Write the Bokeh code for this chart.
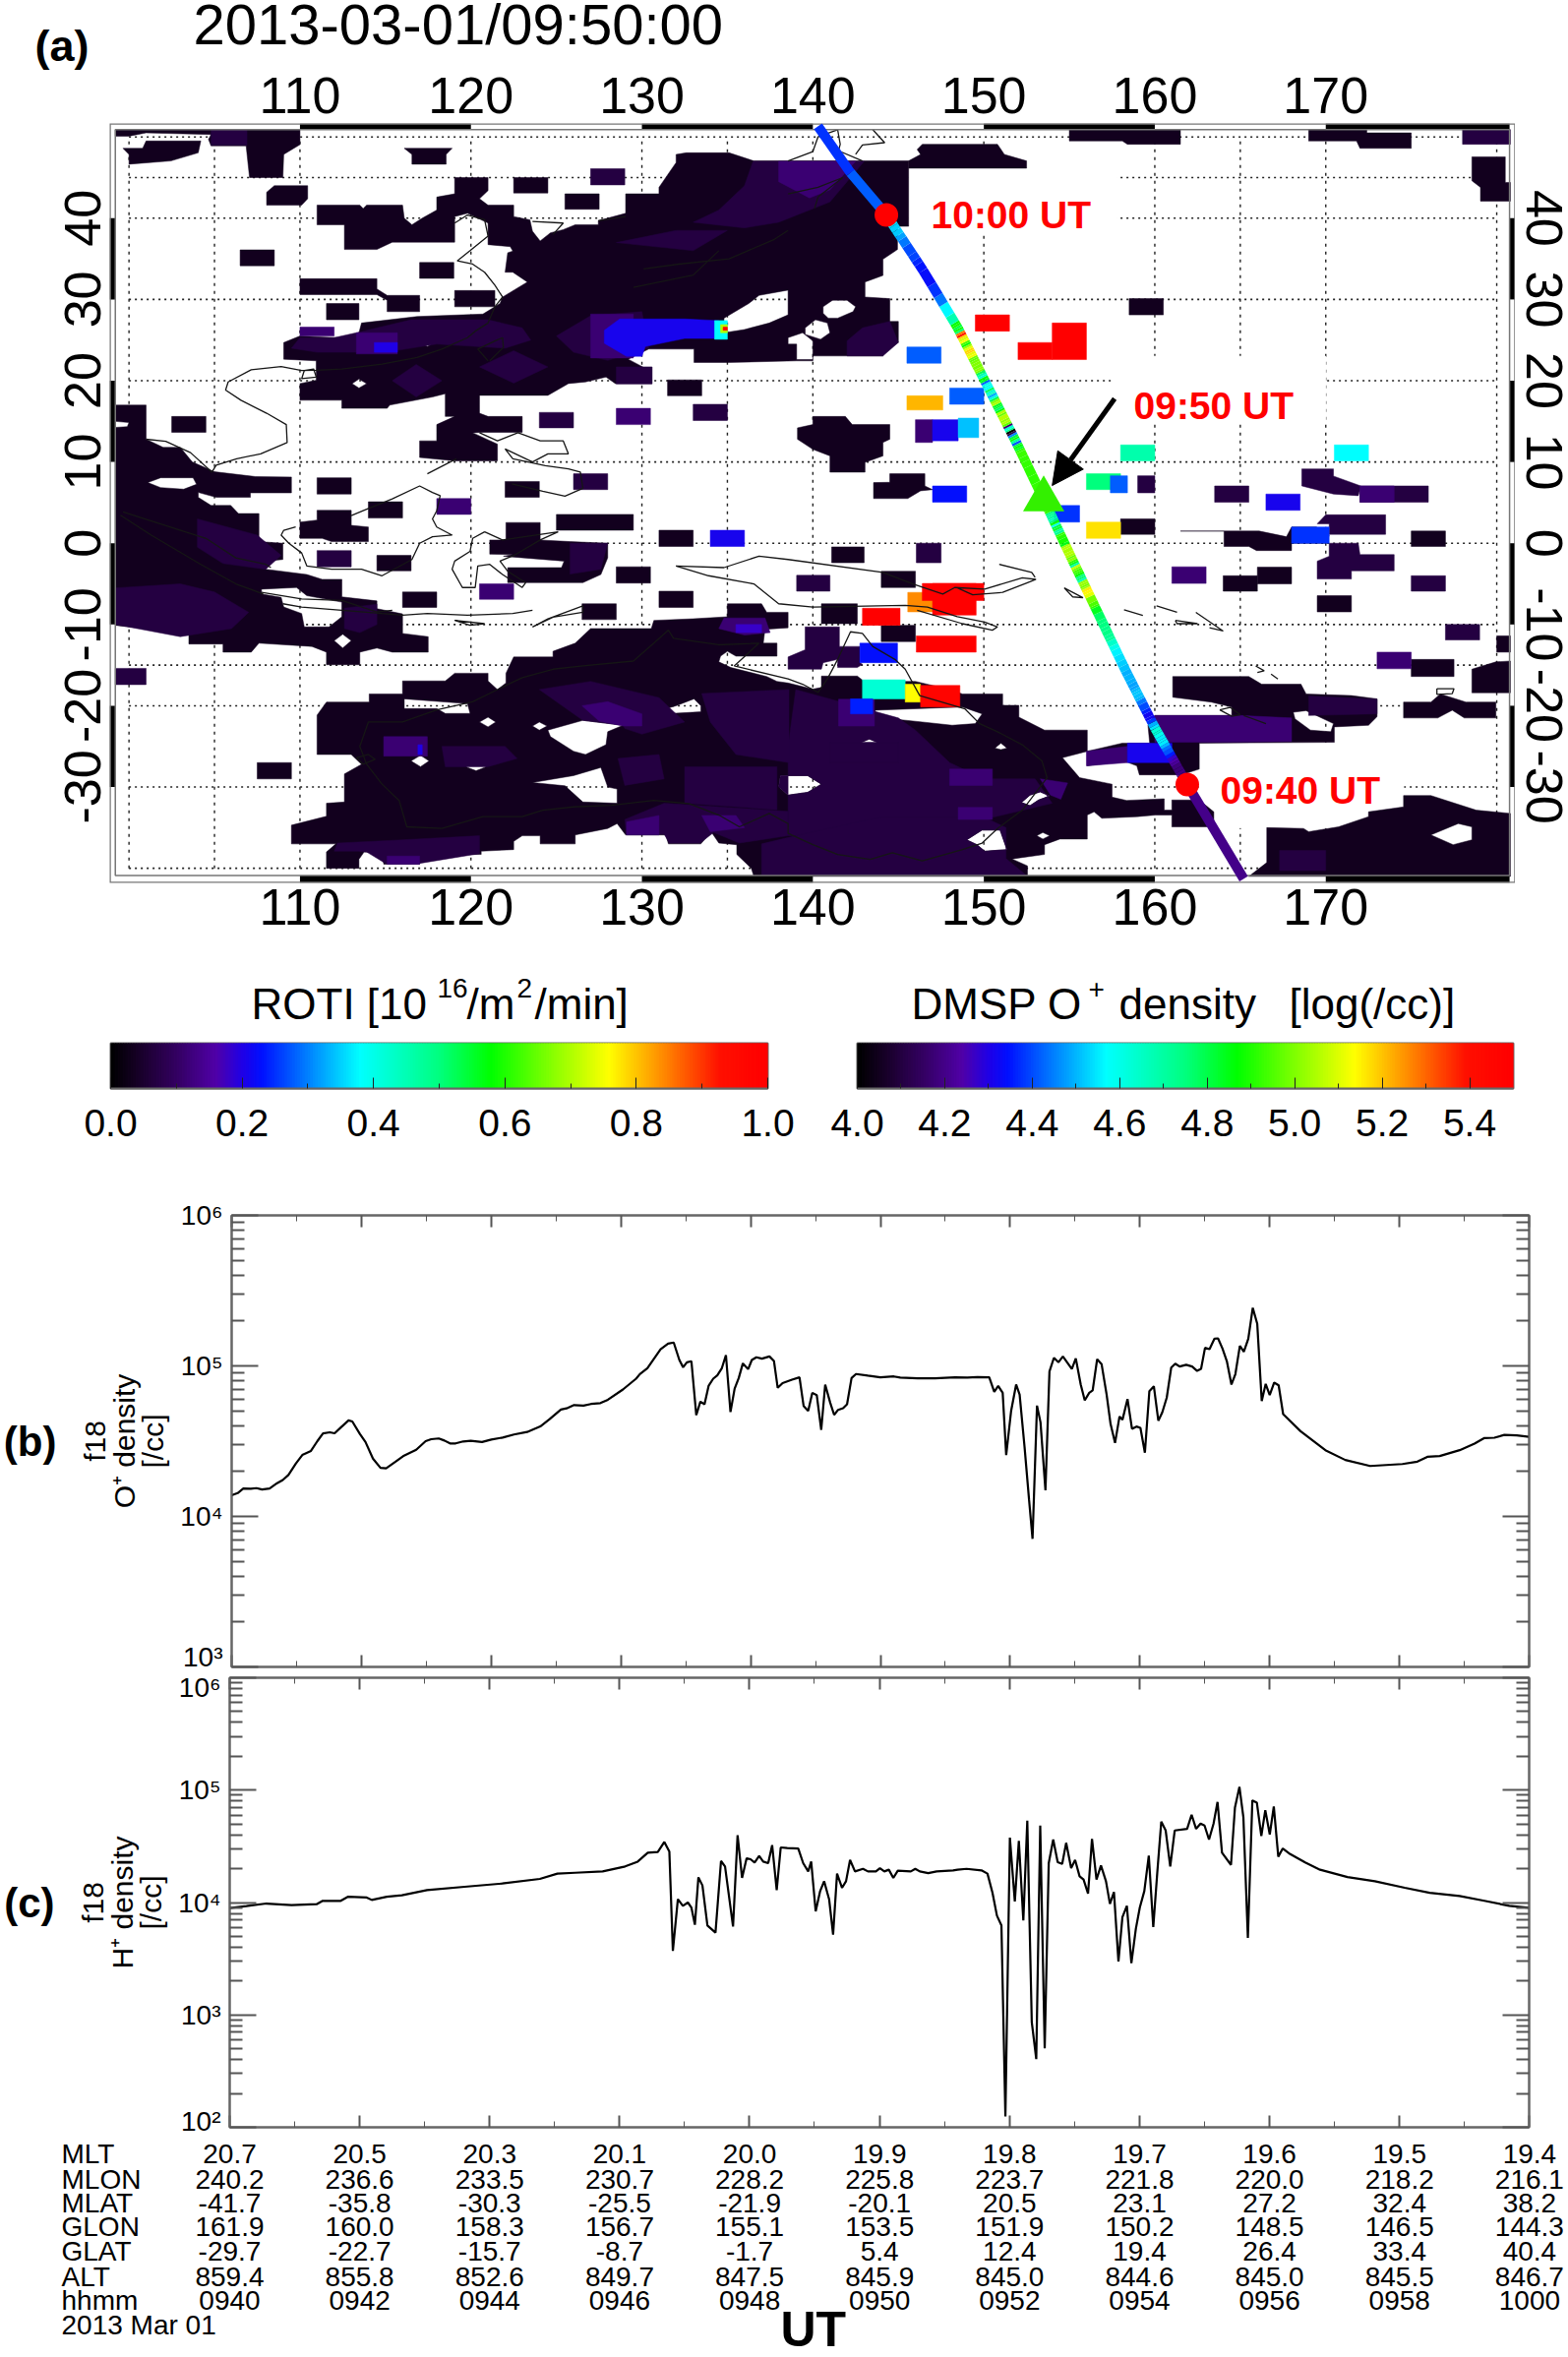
import numpy as np
from bokeh.embed import file_html
from bokeh.resources import INLINE
from bokeh.plotting import figure
from bokeh.layouts import row
from bokeh.core.properties import value
from bokeh.models import (ColumnDataSource, FixedTicker, Label, LinearAxis, LogAxis,
                          LinearColorMapper, Arrow, NormalHead)
from bokeh.transform import transform

FONT = "Liberation Sans"
# ---------------------------------------------------------------- table under the panels
hhmm = ["0940","0942","0944","0946","0948","0950","0952","0954","0956","0958","1000"]
mlt  = ["20.7","20.5","20.3","20.1","20.0","19.9","19.8","19.7","19.6","19.5","19.4"]
mlon = ["240.2","236.6","233.5","230.7","228.2","225.8","223.7","221.8","220.0","218.2","216.1"]
mlat = ["-41.7","-35.8","-30.3","-25.5","-21.9","-20.1","20.5","23.1","27.2","32.4","38.2"]
glon = ["161.9","160.0","158.3","156.7","155.1","153.5","151.9","150.2","148.5","146.5","144.3"]
glat = ["-29.7","-22.7","-15.7","-8.7","-1.7","5.4","12.4","19.4","26.4","33.4","40.4"]
alt  = ["859.4","855.8","852.6","849.7","847.5","845.9","845.0","844.6","845.0","845.5","846.7"]
row_names = ["MLT","MLON","MLAT","GLON","GLAT","ALT","hhmm"]
minutes = [0,2,4,6,8,10,12,14,16,18,20]

# ---------------------------------------------------------------- panel (b): minutes after 09:40, log10 O+ density
o_t = [0,.093,.18,.295,.382,.469,.585,.701,.788,.875,.991,1.089,1.222,1.321,1.408,1.512,1.587,1.686,1.802,1.86,1.976,2.063,2.178,2.294,2.381,2.526,2.642,2.845,2.99,3.076,3.192,3.279,3.366,3.453,3.569,3.685,3.859,4.003,4.177,4.351,4.554,4.757,4.901,5.075,5.162,5.278,5.423,5.539,5.684,5.799,6.031,6.234,6.292,6.408,6.611,6.727,6.814,6.901,6.959,7.017,7.087,7.162,7.225,7.289,7.353,7.423,7.486,7.556,7.619,7.689,7.753,7.816,7.88,7.961,8.018,8.088,8.175,8.29,8.359,8.417,8.492,8.637,8.753,8.816,8.887,8.95,9.019,9.088,9.149,9.226,9.287,9.348,9.425,9.486,9.555,9.624,9.808,9.999,10.207,10.306,10.575,10.843,11.149,11.341,11.494,11.678,11.755,11.816,11.885,11.939,12.015,12.092,12.146,12.222,12.291,12.345,12.414,12.468,12.544,12.606,12.675,12.744,12.813,12.951,13.012,13.088,13.15,13.219,13.272,13.341,13.41,13.487,13.548,13.617,13.686,13.732,13.809,13.878,13.947,14.008,14.077,14.146,14.215,14.284,14.345,14.414,14.483,14.545,14.613,14.713,14.805,14.882,14.943,15.004,15.073,15.15,15.204,15.273,15.342,15.411,15.472,15.541,15.602,15.671,15.74,15.809,15.878,15.939,16.001,16.07,16.139,16.208,16.476,16.859,17.166,17.549,18.047,18.277,18.431,18.622,18.929,19.158,19.311,19.465,19.618,19.81,20.0]
o_log = [4.14,4.155,4.186,4.184,4.188,4.179,4.186,4.221,4.242,4.275,4.352,4.408,4.435,4.5,4.552,4.559,4.552,4.592,4.638,4.631,4.548,4.494,4.384,4.323,4.319,4.363,4.4,4.443,4.5,4.513,4.518,4.504,4.485,4.485,4.498,4.502,4.494,4.511,4.524,4.544,4.561,4.598,4.646,4.71,4.718,4.74,4.736,4.747,4.753,4.775,4.843,4.915,4.945,4.985,5.111,5.148,5.155,5.039,4.991,5.024,5.031,4.673,4.762,4.745,4.869,4.915,4.937,4.985,5.072,4.694,4.849,4.919,5.017,4.978,5.039,5.057,5.048,5.063,5.033,4.854,4.886,4.908,4.924,4.734,4.701,4.821,4.806,4.575,4.876,4.756,4.675,4.708,4.719,4.745,4.919,4.946,4.935,4.924,4.93,4.922,4.917,4.917,4.924,4.922,4.926,4.924,4.828,4.867,4.821,4.407,4.701,4.876,4.81,4.462,4.113,3.851,4.736,4.625,4.174,4.963,5.054,5.024,5.063,4.98,5.05,4.876,4.771,4.821,4.837,5.044,5.011,4.81,4.614,4.488,4.664,4.643,4.78,4.582,4.597,4.588,4.423,4.832,4.865,4.636,4.691,4.789,4.989,5.015,4.996,5.007,4.996,4.967,4.98,5.12,5.111,5.181,5.183,5.115,5.028,4.876,4.946,5.133,5.094,5.181,5.386,5.279,4.767,4.88,4.806,4.889,4.871,4.68,4.566,4.44,4.375,4.335,4.348,4.364,4.396,4.401,4.44,4.484,4.521,4.523,4.542,4.538,4.529]
# ---------------------------------------------------------------- panel (c): minutes after 09:40, log10 H+ density
h_t = [0,.257,.566,.952,1.338,1.431,1.709,1.824,2.11,2.187,2.419,2.651,3.037,3.616,4.195,4.774,5.044,5.315,5.74,6.087,6.28,6.435,6.589,6.69,6.767,6.821,6.898,6.975,7.052,7.106,7.16,7.214,7.276,7.353,7.477,7.562,7.624,7.747,7.817,7.886,7.956,8.017,8.079,8.149,8.211,8.288,8.349,8.419,8.481,8.581,8.751,8.827,8.904,8.95,9.019,9.088,9.149,9.226,9.287,9.348,9.425,9.486,9.548,9.624,9.747,9.824,9.946,10.008,10.076,10.145,10.214,10.283,10.483,10.552,10.621,10.751,10.881,11.134,11.203,11.341,11.571,11.663,11.74,11.809,11.878,11.939,12.008,12.084,12.146,12.215,12.276,12.345,12.414,12.475,12.544,12.606,12.675,12.744,12.813,12.874,12.951,13.012,13.081,13.142,13.211,13.272,13.341,13.41,13.487,13.548,13.61,13.679,13.74,13.809,13.878,13.947,14.008,14.077,14.146,14.215,14.276,14.338,14.406,14.476,14.545,14.736,14.805,14.874,14.943,15.004,15.073,15.142,15.204,15.273,15.411,15.472,15.541,15.602,15.671,15.74,15.809,15.878,15.939,16.008,16.07,16.139,16.208,16.323,16.553,16.782,17.204,17.626,18.085,18.469,18.929,19.311,19.694,20.0]
h_log = [3.95,3.968,3.991,3.977,3.985,4.015,4.015,4.052,4.044,4.023,4.052,4.064,4.111,4.14,4.169,4.21,4.257,4.265,4.277,4.321,4.364,4.443,4.449,4.539,4.452,3.569,4.029,3.971,4.0,3.956,3.802,4.224,4.152,3.796,3.732,4.37,4.321,3.787,4.598,4.219,4.394,4.385,4.356,4.414,4.364,4.35,4.51,4.111,4.49,4.484,4.481,4.35,4.277,4.364,3.921,4.102,4.189,4.029,3.714,4.257,4.131,4.189,4.379,4.277,4.3,4.277,4.277,4.306,4.277,4.292,4.219,4.283,4.277,4.3,4.277,4.262,4.277,4.286,4.292,4.3,4.286,4.257,4.087,3.883,3.796,2.096,4.577,4.009,4.548,3.84,4.729,2.936,2.607,4.685,2.703,4.35,4.56,4.359,4.344,4.531,4.306,4.379,4.233,4.204,4.079,4.566,4.204,4.329,4.189,3.988,4.093,3.475,3.869,3.971,3.461,3.767,3.956,4.102,4.417,3.781,4.262,4.72,4.641,4.321,4.641,4.656,4.781,4.656,4.703,4.685,4.56,4.7,4.895,4.443,4.335,4.845,5.029,4.758,3.685,4.909,4.889,4.592,4.822,4.606,4.854,4.408,4.481,4.431,4.356,4.292,4.227,4.189,4.131,4.087,4.058,4.015,3.971,3.953]

# ---------------------------------------------------------------- map (a): satellite track ends beyond the table (lon, lat, log density)
track_south = [(165.2,-41.3,4.23),(161.9,-29.7,4.2)]
track_north = [(144.3,40.4,4.48),(142.2,45.6,4.42),(140.3,51.3,4.38)]

# ROTI patches: polygons in (lon, lat), each [outer, hole, hole...] with one value
dark_north = [
 [(111,41.6),(113.5,41.6),(113.7,41.2),(113.9,41.6),(116,41.6),(116.1,40),(116.55,39.2),(117.15,40),(118,41),(118,42.6),(119.05,43),(119.05,45),(121,45),(121,43.4),(120.5,42.4),(121,41.6),(122.5,41.6),(122.5,40.2),(123.45,39.8),(123.6,38.4),(124.05,37.2),(124.65,38.2),(125.4,38.6),(126.1,39.2),(127.45,39.2),(127.45,39.7),(129.05,40.6),(129.05,43),(131,43),(131,43.8),(132,46.85),(132,47.85),(132.6,48.05),(135.1,48.05),(136.55,47.05),(145.6,47.05),(145.6,39),(144.95,39),(144.95,36.15),(144.1,34.95),(144.1,32.95),(143.05,32.15),(143.05,30.3),(144.5,30.1),(144.5,27.3),(145,27.3),(145,24.7),(144.1,24.1),(144.1,23.05),(140,23.05),(140,22.45),(139.05,22.45),(135.1,22.25),(133.05,22.25),(133.05,23.9),(130.4,23.9),(129.2,22.65),(130.1,21.65),(130.55,21.65),(130.55,19.65),(128.45,19.65),(127.9,20.45),(126.7,19.85),(125.7,19.65),(124.5,18.2),(120.5,18.2),(120.5,16),(121,15.6),(123,15.6),(123,13.65),(120.7,13.65),(120.1,13.6),(121.55,12.2),(121.55,10.15),(119.05,10.15),(117,10.55),(117,12.6),(118,12.6),(118,14.6),(119.05,15.6),(118.5,15.6),(118.5,18.4),(117.75,18),(115.25,17),(115.1,16.6),(112.45,16.6),(112.45,17.6),(110,17.6),(110,19.65),(110.95,20.05),(110.95,22.45),(109.05,22.65),(109.05,24.7),(110,25.5),(112,25.3),(113,25.3),(113.45,25.9),(113.6,27.1),(116.85,27.9),(120.7,28.2),(121.7,29.5),(121.85,30.3),(123.3,32.15),(122.45,33.35),(122,33.35),(122.15,35.75),(122.45,35.95),(122.3,36.5),(121,36.75),(121,39.4),(119.8,40.6),(119.05,40.2),(119.05,37.05),(115.4,37.05),(114.5,36.15),(112.6,36.15),(112.6,39.2),(111,39.2)],
 [(134.8,26.5),(134.8,27.7),(136.25,29.5),(136.85,30.5),(138.55,31.15),(138.55,28.1),(137.45,27.1),(136,26.3),(134.8,25.9)],
 [(140.6,29.1),(141.15,29.9),(142,29.9),(142.5,29.1),(142.35,28.5),(141.45,27.7),(140.9,27.7),(140.6,28.3)],
 [(139.55,26.5),(140.15,27.5),(140.85,27.1),(141,25.9),(140.45,25.1),(139.55,25.7)],
 [(138.55,25.3),(139.4,25.9),(140,24.9),(140,22.6),(139.05,22.6),(139.05,24.5),(138.55,24.5)],
 [(113.05,19.65),(113.45,20.2),(113.9,19.65),(113.45,19.1)],
 [(117.05,24.7),(117.45,25.2),(117.85,24.7),(117.45,24.2)],
]
dark_west = [
 [(99.2,17),(101,17),(101,12.8),(102,11.8),(103,11.8),(103.7,10),(105,8.8),(107.4,8.2),(109.5,8.15),(109.5,6.2),(107.1,6.2),(107.1,5.65),(105.1,5.65),(104.05,6.25),(104.05,5.65),(104.8,4.65),(105.95,4.65),(106.4,3.65),(107.6,3.65),(107.6,0.2),(109,0),(109,-2),(108,-2.2),(108,-3.2),(110.4,-3.85),(111.3,-4.44),(112.45,-4.44),(112.45,-6.6),(114.5,-7.1),(114.5,-8.05),(116,-8.7),(116,-11.1),(117.5,-11.5),(117.5,-13.4),(115.4,-13.4),(114.5,-12.9),(113.5,-13.4),(113.5,-14.95),(111.55,-14.95),(111.55,-13.4),(110.7,-12.7),(107.6,-12.3),(107.15,-13.4),(105.5,-13.4),(105.5,-12.4),(103.5,-12.4),(103.5,-11.3),(103,-11),(99.2,-10.1)],
 [(99.2,15),(100,14.85),(99.9,14.35),(99.2,14.25)],
 [(101.1,7.46),(101.85,8.06),(103.75,8.06),(103.95,7.25),(103.2,6.65),(101.85,6.85)],
 [(107.75,-5.65),(109.8,-5.45),(110.4,-6.45),(112.45,-7.25),(112.45,-9.05),(111.7,-10.3),(110.25,-10.3),(110.1,-8.65),(109.05,-7.85),(108.9,-6.65),(107.75,-6.25)],
 [(112,-12),(112.5,-11.2),(113,-12),(112.5,-12.9)],
]
h_s_9 = [(138.1,-28.6),(139.7,-28.6),(140.5,-29.65),(139.7,-30.65),(138.55,-31),(138,-30)]
h_s_10 = [(142.6,-24.7),(143.3,-24.1),(144,-24.7),(143.3,-25.2)]
h_s_12 = [(152.7,-31),(153.3,-30.6),(153.85,-31.1),(153.2,-31.6),(152.7,-32.3),(152.2,-31.9)]
h_s_14 = [(149,-36.5),(149.9,-35.3),(150.95,-35.3),(151.35,-37.7),(150.05,-37.9),(149.6,-37.1)]
dark_south = [
 [(109.5,-34.7),(111.55,-33.6),(111.55,-32),(112.6,-31.85),(112.6,-28.4),(113.6,-27.2),(113,-26),(111,-26),(111,-21.15),(111.55,-19.55),(114.05,-19.55),(114.05,-18.55),(116,-18.55),(116,-16.95),(118.5,-16.95),(119.05,-16),(121,-16),(121,-16.95),(121.55,-18),(122.05,-17.2),(122.05,-16),(122.5,-14),(124.8,-14),(124.8,-13.3),(126.1,-12.3),(127,-10.5),(130.55,-10.5),(130.7,-9.5),(133,-9.3),(135,-9.05),(135,-7.45),(137,-7.45),(137.3,-8.5),(138.55,-8.5),(138.55,-10.4),(137.2,-10.6),(137.1,-12.3),(137.9,-12.3),(137.9,-13.9),(135.5,-13.9),(135,-13.3),(134.6,-13.9),(134.5,-14.6),(135.2,-15.3),(137.3,-16.4),(137.9,-17),(138.55,-17.2),(140,-17.95),(140.5,-17.75),(140.5,-16.35),(142.6,-16.35),(143,-17),(146,-17),(148,-18),(148.75,-18.55),(151.1,-18.55),(151.1,-19.95),(152.05,-19.95),(152.05,-21.4),(153.55,-23),(156.05,-23),(156.05,-25.6),(154.6,-26.4),(155.6,-28.85),(157.5,-29.65),(157.5,-31.25),(158.35,-31.65),(160.55,-31.45),(160.55,-32.85),(161,-32.85),(161,-31.6),(162.6,-31.6),(163.45,-33.05),(163.45,-34.9),(161,-34.9),(161,-33.45),(160.05,-33.45),(158.95,-33.65),(156.9,-33.85),(156.45,-33.05),(156.05,-33.45),(156.05,-36.4),(154.45,-36.4),(153.55,-37.1),(153.55,-38.3),(151.65,-38.85),(152.55,-39.7),(152.55,-41),(136.55,-41),(136.4,-40),(135.55,-38.3),(135.55,-37.1),(134.5,-36.9),(134.05,-35.5),(133.45,-37),(131.55,-37),(131.4,-35.9),(129.05,-35.9),(128.55,-34.5),(128,-35.1),(126.1,-35.9),(126.1,-37),(124.05,-37),(124.05,-36),(123,-36),(122.5,-36.7),(122.5,-37.7),(120.6,-37.9),(120.6,-38.3),(117.1,-38.3),(117,-39.5),(114.9,-39.5),(114.8,-38.1),(113.75,-38),(113.45,-38.9),(113.45,-40),(111.55,-40),(111.55,-38),(112.1,-37),(109.5,-37)],
 [(116.1,-19.15),(119.8,-19.75),(119.95,-20.95),(118.5,-20.95),(118,-20.35),(116.1,-20.35)],
 [(120.5,-22),(121,-21.4),(121.45,-22),(121,-22.6)],
 [(123.6,-22.5),(124,-22),(124.45,-22.5),(124,-23)],
 [(116.5,-26.8),(117.05,-26.1),(117.55,-26.8),(117.05,-27.5)],
 [(119.7,-27.5),(120.3,-27),(120.9,-27.5),(120.3,-28)],
 [(124.5,-23),(126.55,-21.8),(128.9,-22.4),(128,-23.2),(127.9,-24.8),(126.7,-26),(126,-25.6),(124.65,-23.8)],
 [(123.6,-29.45),(126,-28.6),(127.6,-27.6),(128,-30),(128.55,-30.25),(128.55,-32),(126.55,-31.85),(125.5,-29.85)],
 [(131.1,-20.55),(132,-20),(133.05,-19.15),(133.45,-20),(133.45,-20.75),(131.25,-21)],
 h_s_9, h_s_10,
 [(150.65,-25.2),(151,-24.6),(151.35,-25.2),(151,-25.4)],
 h_s_12,
 [(153.1,-36),(153.45,-35.6),(153.85,-36),(153.45,-36.4)],
 h_s_14,
 [(143.65,-20.55),(148.75,-20.15),(149.9,-21),(149.5,-22.2),(148.15,-22.4),(146.4,-22),(143.65,-21.4)],
]
dark_mid_east = [
 [(161.05,-16.4),(165.5,-16.4),(166.25,-17.35),(168.55,-17.35),(168.85,-18.55),(171.5,-18.75),(173,-19.15),(173,-21.35),(172.5,-22.4),(170.5,-22.6),(170.5,-24.5),(162.6,-24.6),(162.6,-27.8),(161.55,-28.5),(159.1,-28.5),(158.95,-27.4),(158.2,-26.8),(156.05,-27.4),(156.05,-25.6),(158.1,-24.6),(159.7,-24.6),(159.6,-22.4),(160,-21.2),(164.5,-21.2),(164.5,-20.15),(163.3,-19.55),(161.05,-18.95)],
 [(168.1,-20.8),(168.85,-20.6),(170.45,-22.2),(170.3,-23.2),(169.1,-23),(168.2,-21.6)],
]
dark_south_east = [
 [(166.55,-35),(168.7,-35.1),(169,-35.5),(170.75,-34.9),(172.5,-33.65),(172.5,-33.05),(174.55,-32.45),(174.55,-31.05),(176.15,-31.05),(178.8,-32.85),(180.8,-33.25),(180.8,-41),(165.5,-41),(166.55,-39.3)],
 [(176.15,-35.9),(177.75,-34.5),(178.55,-34.9),(178.55,-36.5),(177.45,-37.1)],
]
dark_others = [
 [(99.65,48.6),(100.8,48.6),(101,49.5),(104.2,49.5),(104.05,48.05),(102.45,47.05),(100,46.65),(100,47.85)],
 [(99.2,50.9),(110,50.9),(110,49.05),(109.05,47.85),(109,45),(107.05,45),(106.85,48.9),(104.8,48.9),(104.65,49.7),(104.8,50.3),(101,50.5),(100,50.1),(99.2,50.1)],
 [(108.5,44),(110.45,44),(110.45,42.4),(110.1,41.6),(108.05,41.6),(108.05,43.2)],
 [(116.1,48.6),(118.9,48.6),(118.55,47.85),(118.55,46.65),(116.55,46.65),(116.55,47.85)],
 [(110,32.55),(114.5,32.55),(114.5,31.3),(115.1,30.5),(117,30.5),(117,28.5),(115.1,28.5),(115.1,29.9),(114.5,30.6),(110,30.6)],
 [(111,4.05),(113,4.05),(113,2.2),(114,2),(114,0.2),(111.85,0.2),(111.3,0.6),(110,0.6),(110,2.6),(111,2.85)],
 [(121.1,0.4),(122.05,0.4),(122.05,2.55),(124.05,2.55),(124.05,0.4),(125.8,0.2),(128,0),(128,-1.8),(127.6,-3.85),(126.55,-4.85),(122.15,-4.85),(122.15,-3),(125.3,-3),(125.45,-2.2),(121.9,-1.6),(122.45,-1.4),(121.1,-1.35)],
 [(155,50.9),(161.5,50.9),(161.5,49.1),(158.4,49.1),(158.1,49.5),(155,49.5)],
 [(169,50.9),(172.4,50.9),(172.4,50.5),(175,50.5),(175,48.6),(172,48.6),(171.8,49.5),(169,49.5)],
 [(178.55,47.55),(180.5,47.55),(180.5,44.4),(180.8,44.4),(180.8,42.1),(179.05,42.1),(179.05,43.8),(178.55,44.6)],
 [(146.4,49.1),(150.8,49.1),(151.2,47.85),(152.5,47.05),(152.5,46.15),(145.6,46.15),(145.6,47.05),(146.3,47.85),(146.1,48.45)],
 [(139.1,14.2),(140,14.6),(140,15.6),(141.9,15.6),(142.3,14.6),(144.5,14.6),(144.5,12.8),(144.1,12.4),(144.1,10.75),(143.05,9.95),(143.05,8.75),(141,8.75),(141,10.75),(140,11.55),(139.1,12.8)],
 [(143.55,7.46),(144.5,7.5),(144.5,8.55),(146.55,8.55),(146.55,7.05),(147,6.6),(146.3,6.45),(145.55,5.5),(143.55,5.5)],
 [(161.5,1.5),(166.1,1.5),(167.7,0.8),(168,2),(169.45,2),(170.2,1),(170.05,0),(168,0),(168,-0.9),(165.95,-0.9),(165.5,-0.4),(164.05,-0.4),(164.05,1.5)],
 [(174.55,-19.55),(176.15,-19.55),(176.7,-18.55),(178.2,-19.55),(179.95,-19.55),(179.95,-21.5),(178.1,-21.5),(177.4,-20.55),(176.55,-21.5),(174.55,-21.5)],
 [(178.55,-15.5),(179.95,-14.6),(180.8,-14.5),(180.8,-18.4),(178.55,-18.4)],
]
dark_rects = [(106.5,108.5,34.15,36.1),(117,119,32.6,34.55),(122.5,124.5,43.1,45),(125.5,127.5,41.1,43),(111.55,113.45,27.5,29.5),(119.05,121.4,29.1,31.1),(102.5,104.5,13.65,15.6),(131.5,133.5,18.15,20.1),(158.5,160.5,28.1,30.1),(111,113,6.05,8.06),(114,116,3.1,5.1),(114.5,116.5,-3.4,-1.5),(116,118,-7.9,-6),(122,124,5.65,7.6),(125,129.5,1.6,3.55),(128.5,130.5,-4.9,-2.9),(131,133,-0.4,1.6),(131,133,-7.9,-5.9),(126.5,128.5,-9.4,-7.45),(107.5,109.5,-29,-27),(140.5,142.6,-9.9,-7.45),(144,146,-5.45,-3.45),(141.1,143,-2.4,-0.45),(144,146,-12.1,-10.1),(158,160,1.1,3),(175,177,-0.4,1.5),(164,166,-5.9,-4),(166,168,-5,-2.95),(169.5,171.5,-8.45,-6.45),(180,180.8,-13.4,-11.4),(175,177.5,-16.4,-14.3)]
purple_rects = [(127,129,44.1,46.1),(124,126,14.2,16.1),(133,135,15.1,17.1),(111,113,-2.9,-0.9),(126,128,6.6,8.55),(99.2,101,-17.4,-15.4),(146.05,147.5,-2.4,0),(139.05,141,-5.9,-3.95),(163.5,165.5,5.05,7.05),(175,177,-5.9,-4),(177,179,-11.9,-10),(159,160,6.2,8.3),(104.8,106.9,49,50.9),(178,180.8,49.1,50.9),(128.5,130.6,19.6,21.7)]
bright_rects = [(110,112,25.5,26.6),(118,120,3.55,5.5),(120.5,122.5,-6.9,-5),(128.5,130.5,14.6,16.6),(161,163,-4.95,-2.9),(173,175,-15.45,-13.4),(146,147,12.4,15.2)]
# lon0, lon1, lat0, lat1, ROTI value of the brightly coloured cells
color_rects = [(134,136,-0.4,1.6,.21),(149.5,151.5,26.1,28.1,1),(152,154,22.6,24.7,1),(154,156,22.6,27.1,1),(145.5,147.5,22.15,24.15,.28),(148,150,17.1,19.1,.28),(145.5,147.6,16.4,18.15,.81),(147,148.5,12.6,15.2,.21),(148.5,149.7,13,15.4,.34),(158,160,10.15,12.1,.46),(170.5,172.5,10.15,12.1,.38),(147,149,5.05,7.05,.23),(156,158,6.6,8.55,.5),(157.4,158.4,6.2,8.3,.28),(154.1,155.6,2.6,4.65,.25),(156,158,0.6,2.6,.78),(166.5,168.5,4.05,6.05,.21),(168,170.2,0,2,.25),(142.9,145.1,-10.1,-8,1),(145.55,147,-8.45,-6.05,.84),(147,149.55,-8.85,-4.95,1),(146.4,150,-7.05,-4.95,1),(146.05,149.55,-13.4,-11.4,1),(142.75,144.95,-14.7,-12.3,.23),(142.9,145.4,-19.15,-16.8,.42),(145.4,146.3,-19.55,-17.35,.76),(146.3,148.6,-20.15,-17.5,.98),(142.2,143.5,-21,-19.15,.24),(158.4,161,-27,-24.6,.21),(116.9,117.15,-26,-24.8,.2),(114.35,115.7,23.5,24.7,.2),(135.5,137,-11,-10,.18)]
purple_polys = [
 [(136.5,47),(143,47),(142,44.5),(141,42),(138,39.5),(136,38.8),(133,39.5),(134.5,41),(136,44)],
 [(128.5,37),(133,36),(135,38.5),(132,38.5)],
 [(110,25.3),(112,25.3),(113.5,26),(116.5,27.5),(121,27.5),(123,26.5),(123.5,25),(122,24),(118,24.5),(115,23.5),(111,23.5),(109.5,24)],
 [(120.5,21.7),(122.5,19.7),(124.5,21.7),(122.5,23.7)],
 [(115.4,20),(116.8,18),(118.3,20),(116.8,22)],
 [(125,25.5),(127,28),(130,28.5),(130.4,24),(128,22.5),(126,23.5)],
 [(142,23.05),(142,24.9),(142.9,26.5),(144.5,27.3),(145,24.7),(144.1,23.05)],
 [(104,3),(107.5,1),(108.9,-1.5),(108,-3.2),(105.5,-2.5),(104,-0.5)],
 [(99.2,-5.5),(103,-5),(105,-6),(107,-8.5),(106,-10.5),(103,-11.5),(99.2,-10)],
 [(112.6,-8),(114.5,-7.5),(114.5,-10),(113.5,-11),(112.6,-10.5)],
 [(125.8,0),(128,0),(127.6,-3.2),(125.8,-3.8)],
 [(124,-18),(127,-17),(131,-19),(132.5,-22),(130,-23.5),(129,-22.8),(128.9,-22.4),(126.55,-21.8),(125,-19.5)],
 [(118.3,-25),(122,-25),(122.7,-26.5),(121,-27.5),(118.5,-27.5)],
 [(128.6,-26.5),(131,-26),(131.3,-29),(129,-29.8)],
 [(131.3,-32),(135,-32.5),(138.55,-33),(138.55,-36),(135.7,-36.9),(134.2,-35.6),(133.4,-36.9),(131.6,-36.9),(131.3,-35.8),(129.1,-35.8),(129,-34)],
 [(112.2,-36.9),(116,-36.5),(120.5,-36),(120.5,-38.2),(117,-39.4),(115,-39.4),(113.9,-38),(113.4,-37.9),(112,-37.9)],
 [[(139,-18),(145,-21.5),(146,-23),(148,-27),(150,-29),(153,-29),(154,-32),(150,-34),(144,-34),(140,-36),(138.55,-36),(138.55,-25)],h_s_9,h_s_10,h_s_12],
 [[(139,-36),(144,-33.7),(150,-33.7),(151.3,-35),(151.3,-38.8),(152.5,-40.9),(137,-40.9),(137,-37)],h_s_14],
 [(133.5,-18.5),(138.6,-18),(138.6,-27),(135.5,-26),(134,-22)],
 [(132.5,-27.5),(137.9,-27.5),(137.9,-32.8),(132.5,-32)],
 [(141,-24.5),(145,-24.5),(145,-27),(141,-27)],
 [(167.3,-37.8),(170,-37.8),(170,-40.3),(167.3,-40.3)],
 [(169,-18.8),(173,-19.2),(173,-21),(169,-21.2)],
 [(138.55,-14),(139.55,-13.1),(139.55,-10.3),(141.55,-10.3),(141.55,-12.7),(142.75,-12.7),(142.75,-14.7),(142.9,-14.9),(142.6,-15.3),(141.45,-15.3),(141.45,-14.3),(140.6,-14.7),(140.5,-15.5),(138.55,-15.5)],
 [(170,3.5),(173.5,3.5),(173.5,1.1),(170.2,1.1),(170.2,2.4),(169.5,2.4)],
 [(170.2,0),(171.9,0),(172,-1.4),(174,-1.4),(174,-3.4),(171.5,-3.4),(171.5,-4.4),(169.5,-4.4),(169.5,-2.2),(170.2,-1.6)],
 [(168.6,9.15),(170.45,9.15),(170.45,8.27),(172.05,7.05),(171.9,5.85),(170.45,6.05),(168.6,7.05)],
 [(172,7.05),(176,7.05),(176,5.05),(172,5.05)],
]
bright_polys = [
 [(138,47),(142.5,47),(141,43.5),(139.8,42.5),(138,44.5)],
 [(126.5,-20),(128,-19.5),(130,-21),(130,-22.5),(128.9,-22.5),(127.5,-21.9)],
 [(114.9,-23.8),(117.45,-23.8),(117.45,-26.2),(114.9,-26.2)],
 [(129.1,-34.3),(131,-33.5),(131,-35.9),(129.1,-35.9)],
 [(133.5,-33.5),(135.5,-33.5),(136,-35),(134,-35.5)],
 [(115.1,-38.5),(117,-38.5),(117,-39.5),(115.1,-39.5)],
 [(134.8,-9.2),(137.2,-9.2),(137.5,-11),(136,-11.3),(134.5,-10.5)],
 [(148,-27.8),(150.5,-27.8),(150.5,-29.8),(148,-29.8)],
 [(153.3,-29),(154.9,-29.5),(154.5,-31.5),(153.9,-31)],
 [(148.5,-32.5),(150.5,-32.5),(150.5,-34),(148.5,-34)],
 [(141.5,-19.2),(143.6,-19.2),(143.6,-22.5),(141.5,-22.5)],
 [(160,-21.2),(165,-21.2),(168,-21.5),(168,-24.4),(163,-24.5),(160,-24.5)],
 [(156,-25.6),(158.4,-25),(158.4,-27),(156,-27.4)],
 [(113.3,23.3),(115.7,23.3),(115.7,25.9),(113.3,25.9)],
 [(127,22.8),(129.5,22.8),(129.5,28.2),(127,28.2)],
 [(172,7.05),(174,7.05),(174,5.05),(172,5.05)],
]
blue_blob = [[(127.8,26.2),(128.7,27.6),(132.5,27.6),(134.5,27.4),(134.9,25.2),(132.5,25.2),(130.2,24.2),(130,23),(129.1,23),(127.8,24.6)]]
hot_spot = [(134.25,135,25.1,27.4,.38),(134.6,135,25.9,26.9,.7),(134.75,135,26.2,26.6,1)]
label_boxes = [(145.6,157.8,38,47),(162.6,174.55,-35,-24.6),(157.5,170,14.8,23)]

coast_lines = [
 [(119.05,39.4),(119.8,40.4),(120.8,39.8),(121,37.8),(119.95,36),(119.2,34.75),(120.1,34.35),(120.8,33.35),(121.4,31.75),(121.85,30.3),(121.4,29.1),(121,27.1),(120.25,26.1),(119.8,25.3),(118.3,23.9),(116.85,22.85),(114.8,22.05),(112.45,21.45),(110.95,21.3),(110.1,21.25),(108.9,21.75),(107.15,21.35),(105.8,19.85),(105.65,18.85),(106.55,17.6),(108.05,16),(109.2,14.6),(109.25,12.4),(107.7,11),(106.3,10.4),(105.1,9.6),(104.85,8.75),(103.6,11.15),(102.15,12.55),(101,12.8)],
 [(117.45,8.55),(119.15,10.4)],
 [(120.5,13.6),(121.55,12.6),(122.75,13.6),(124.05,12.6),(125.4,12.6),(125.7,11),(124.5,11),(123.6,10),(122,11.6),(122.45,10.4),(124.35,9.55),(125.7,9.15),(126.4,8.75),(126.55,6.75),(125.5,5.8),(124.2,6.4),(122.4,7.3)],
 [(113,3.4),(113.9,4.2),(115.4,5.45),(117,7.05),(117.75,6.25),(118.2,5.85),(118,4),(117.75,3),(118,2),(118.9,1),(117.75,0.8),(117,0),(116.55,-2),(114.8,-4),(113.6,-3.2),(111.85,-3.2),(110.4,-2.8),(110.1,-1.2),(109.35,0),(108.9,1),(109.05,1.6),(109.75,2)],
 [(120.8,1.4),(120.1,0.6),(119.95,-1),(119.05,-2.2),(118.9,-3.2),(119.5,-5.45),(120.25,-5.45),(120.4,-2.8),(121.1,-2.6),(121.85,-3.85),(123,-5.45),(123.2,-4.85),(122.15,-3.45),(121.7,-2.2),(122.6,-1.4),(124.05,0.4),(125.1,1.4),(121.85,0.4),(120.8,1.4)],
 [(109,-7.45),(110.1,-7.85),(112.45,-8.25),(114.8,-8.65),(116,-8.85),(117.45,-8.65),(119.8,-8.85),(122.45,-8.65),(123.6,-8.25)],
 [(107.75,-6.05),(110.1,-6.85),(112.45,-7.05),(114.5,-8.45),(115.4,-8.25)],
 [(119.05,-9.5),(120.8,-9.9),(119.95,-10.1),(119.05,-9.5)],
 [(123.6,-10.3),(124.5,-9.3),(126.55,-7.7),(126.55,-8.5),(124.8,-9.1),(123.6,-10.3)],
 [(99.5,3.45),(101.3,1),(104.2,-2.6),(106.25,-5),(107.85,-6.25)],
 [(99.65,3.85),(104.5,0.6),(106.25,-1.8),(108,-2.6),(108.3,-3)],
 [(132,-2.8),(134.8,-3),(136.85,-1.6),(138.55,-2),(144.1,-3.6),(145.85,-5),(147.6,-6.25),(148.3,-5.45),(150.05,-5.65),(152.25,-4.25),(153.05,-4.45),(152.55,-4.85),(151.1,-6.05),(149.35,-6.35),(148.45,-5.5)],
 [(132,-2.8),(133.9,-4),(136.55,-5),(138,-7.45),(140,-7.85),(145.4,-7.65),(146.7,-7.85),(148.45,-9.05),(150.05,-9.7),(150.8,-10.3),(150.5,-10.7),(148.75,-9.9),(146.1,-8.25)],
 [(150.9,-2.6),(152.8,-3.6),(153,-4.2)],
 [(154.7,-5.5),(155.8,-6.7),(155.2,-6.6),(154.7,-5.5)],
 [(158.2,-8.2),(159.3,-8.9)],[(160.1,-7.7),(161.3,-8.5)],
 [(161.2,-9.5),(162.5,-9.9),(161.3,-9.9),(161.2,-9.5)],[(162.4,-8.5),(164,-10.8),(163.2,-10.4)],
 [(113.9,-27.2),(114.8,-29.65),(115.8,-31.65),(116.25,-34.9),(118.3,-35.1),(120.7,-33.65),(123,-33.65),(124.2,-32.85),(126,-32.45),(128.2,-32.25),(130.7,-31.65),(132.75,-32.05),(134.5,-33.45),(135.7,-34.9),(137.45,-33.25),(138.55,-34.5),(138.55,-35.7),(140,-37.1),(141.45,-38.3),(143.35,-38.9),(144.65,-38.1),(146.4,-39.1),(148.75,-37.7),(149.9,-36.9),(150.8,-35.1),(152.25,-32.85),(153.7,-28.85),(153.4,-26.8),(152.25,-24.8),(150.8,-23.2),(149.75,-22.2),(148.9,-20.4),(146.25,-18.75),(145.4,-15.5),(144.8,-14.3),(143.5,-12.7),(142.9,-11.1),(142.2,-10.9),(141.45,-14.3),(140.85,-16.7),(140.3,-18.35),(139.4,-17.35),(138.55,-16.7),(135.4,-15.1),(136.85,-12.3),(134.5,-12.5),(131.85,-11.7),(131.55,-10.7),(130.7,-12.3),(129.5,-14.5),(126.55,-15.1),(124.8,-15.5),(123,-16.55),(122,-17.55),(120.1,-19.5),(118,-20.5),(116,-22),(114,-22),(113.5,-25),(113.9,-27.2)],
 [(113.3,-26.4),(114,-26),(114.4,-26.6),(113.7,-27.2),(113.3,-26.4)],
 [(138.55,47.05),(140,48.2),(140.3,50),(141.45,50.9)],
 [(141.45,50.9),(141.6,49.1),(141.5,48.3),(142.9,47.05)],[(142.5,47.85),(142.9,49),(144.2,49.3),(143.5,50.9)],
 [(123.6,39.6),(125.4,39.4),(124.8,38)],[(127.45,39.7),(129.05,40.2)],
 [(130.1,33.75),(132.15,34.35),(135.1,35),(137.75,37.4),(138.55,38.5)],
 [(129.5,31.5),(133,33),(134.5,36)],[(138.55,43),(140.3,43.8),(141.75,45),(140.3,42.6),(140.1,41.2)],
 [(121,22.45),(120.4,23.9),(121.4,24.9),(121.85,25.3),(121.9,24.1),(121.1,22.45)],
 [(110.25,21.25),(110.8,21.45),(110.95,20.45),(110.1,20.25),(110.25,21.25)],
 [(163.8,-20.5),(164.4,-20.2),(165,-21.1),(164.5,-21.3),(163.8,-20.5)],[(165.2,-21.2),(166.5,-22.2)],
 [(176.5,-17.9),(177.5,-17.9),(177.4,-18.5),(176.5,-18.6),(176.5,-17.9)],
 [(165.9,-15.1),(166.4,-15.7),(166,-15.9)],[(166.8,-16.1),(167.2,-16.7)],
]

# ---------------------------------------------------------------- colour scales
anchors = [(0,"#000000"),(.05,"#1c0030"),(.1,"#340062"),(.16,"#5000a8"),(.2,"#2000e6"),(.23,"#0010ff"),(.3,"#0080ff"),(.38,"#00ffff"),(.5,"#00ff80"),(.58,"#00ff00"),(.68,"#90ff00"),(.76,"#ffff00"),(.85,"#ff8000"),(.93,"#ff1000"),(1,"#ff0000")]
def make_palette(n=256):
    xs = np.array([a[0] for a in anchors])
    rgb = np.array([[int(a[1][i:i+2],16) for i in (1,3,5)] for a in anchors],float)
    t = np.linspace(0,1,n)
    return ["#%02x%02x%02x"%tuple(int(round(np.interp(v,xs,rgb[:,k]))) for k in range(3)) for v in t]
PALETTE = make_palette()
roti_map = LinearColorMapper(palette=PALETTE,low=0,high=1)
dmsp_map = LinearColorMapper(palette=PALETTE,low=4,high=5.5)

# ---------------------------------------------------------------- text-only strips: frame fills the figure, range counts page pixels
def strip(width,top,height,left=0):
    s=figure(width=width,height=height,x_range=(left,left+width),y_range=(top+height,top),output_backend="svg",
             toolbar_location=None,x_axis_type=None,y_axis_type=None,outline_line_color=None,
             min_border_left=0,min_border_right=0,min_border_top=0,min_border_bottom=0)
    s.grid.visible=False
    return s
def stext(s,x,y,text,size,bold=False,color="black",align="left",base="middle",angle=0):
    s.text(x=[x],y=[y],text=[text],text_font=value(FONT),text_font_size=f"{size}px",text_font_style="bold" if bold else "normal",
           text_color=color,text_align=align,text_baseline=base,angle=angle)

top_strip=strip(1594,0,72)
stext(top_strip,196,24,"2013-03-01/09:50:00",58)
stext(top_strip,35,46,"(a)",45,bold=True)

# ================================================================ map (a)
LON0,LON1,LAT0,LAT1 = 98.87,181.09,-41.8,51.66
IN_W,IN_E,IN_S,IN_N = 99.2,180.75,-40.9,50.9
m = figure(width=1540,height=936,x_range=(LON0,LON1),y_range=(LAT0,LAT1),output_backend="svg",
           toolbar_location=None,min_border_left=111,min_border_right=0,min_border_top=71,min_border_bottom=93,
           x_axis_type=None,y_axis_type=None,outline_line_color=None,border_fill_color=None)
m.grid.visible=False
ML,MB = 111,897
for lat in [50,45,40,30,20,10,0,-10,-15,-20,-30,-40]:
    m.line([100,180],[lat,lat],line_color="#222222",line_width=1.6,line_dash="2 4")
for lon in [100,105,110,120,130,135,140,150,160,165,170,180]:
    m.line([lon,lon],[-40,50],line_color="#222222",line_width=1.4,line_dash="3 5")
bx=list(zip(*label_boxes))
m.quad(left=bx[0],right=bx[1],bottom=bx[2],top=bx[3],fill_color="white",line_color="white")

def add_polys(groups,val):
    src=ColumnDataSource(dict(xs=[[[ [q[0] for q in ring] for ring in g]] for g in groups],
                              ys=[[[ [q[1] for q in ring] for ring in g]] for g in groups],
                              v=[val]*len(groups)))
    m.multi_polygons("xs","ys",source=src,fill_color=transform("v",roti_map),line_color=transform("v",roti_map),line_width=0.5)
def as_groups(polys):
    return [p if isinstance(p[0],list) else [p] for p in polys]
DARK,PUR,BRI=.035,.07,.115
add_polys([dark_north,dark_west,dark_south,dark_mid_east,dark_south_east],DARK)
add_polys(as_groups(dark_others),DARK)
def add_rects(rects,val=None):
    r=list(zip(*rects))
    src=ColumnDataSource(dict(l=r[0],r=r[1],b=r[2],t=r[3],v=r[4] if val is None else [val]*len(rects)))
    m.quad(left="l",right="r",bottom="b",top="t",source=src,fill_color=transform("v",roti_map),line_color=transform("v",roti_map),line_width=0.5)
add_rects(dark_rects,DARK)
add_polys(as_groups(purple_polys),PUR)
add_rects(purple_rects,PUR)
add_polys(as_groups(bright_polys),BRI)
add_rects(bright_rects,BRI)
add_polys([blue_blob],.21)
add_rects(color_rects)
add_rects(hot_spot)
m.multi_line([[q[0] for q in c_] for c_ in coast_lines],[[q[1] for q in c_] for c_ in coast_lines],line_color="#161616",line_width=1.3)

# frame bands
black_lon=[(110,120),(130,140),(150,160),(170,IN_E)]
black_lat=[(30,40),(10,20),(-10,0),(-30,-20)]
for (a_,b_) in black_lon:
    m.quad(left=a_,right=b_,bottom=IN_N,top=LAT1,fill_color="black",line_color=None)
    m.quad(left=a_,right=b_,bottom=LAT0,top=IN_S,fill_color="black",line_color=None)
for (a_,b_) in black_lat:
    m.quad(left=LON0,right=IN_W,bottom=a_,top=b_,fill_color="black",line_color=None)
    m.quad(left=IN_E,right=LON1,bottom=a_,top=b_,fill_color="black",line_color=None)
m.quad(left=IN_W,right=IN_E,bottom=IN_S,top=IN_N,fill_color=None,line_color="#777777",line_width=1.5)
m.quad(left=LON0,right=LON1,bottom=LAT0,top=LAT1,fill_color=None,line_color="#777777",line_width=2.5)

# track coloured by the O+ density of panel (b)
tbl_lon=[float(v) for v in glon]; tbl_lat=[float(v) for v in glat]
tr_lon=np.interp(o_t,minutes,tbl_lon); tr_lat=np.interp(o_t,minutes,tbl_lat)
xs=[[a_,b_] for a_,b_ in zip(tr_lon[:-1],tr_lon[1:])]; ys=[[a_,b_] for a_,b_ in zip(tr_lat[:-1],tr_lat[1:])]; vs=list(o_log[:-1])
for ext in (track_south,track_north):
    for a_,b_ in zip(ext[:-1],ext[1:]):
        xs.append([a_[0],b_[0]]); ys.append([a_[1],b_[1]]); vs.append(b_[2])
m.multi_line("xs","ys",source=ColumnDataSource(dict(xs=xs,ys=ys,v=vs)),line_color=transform("v",dmsp_map),line_width=10,line_cap="butt")

m.scatter([tbl_lon[0],tbl_lon[10]],[tbl_lat[0],tbl_lat[10]],marker="circle",size=24,fill_color="#ff0000",line_color=None)
m.scatter([tbl_lon[5]],[tbl_lat[5]],marker="triangle",size=42,fill_color="#33f000",line_color=None)
m.add_layout(Arrow(end=NormalHead(size=32,fill_color="black",line_color="black"),x_start=157.65,y_start=17.8,x_end=154,y_end=7.1,line_width=5,line_color="black"))

lon_ticks=[110,120,130,140,150,160,170]
lat_ticks=[40,30,20,10,0,-10,-20,-30]
def map_axis(side,ticks,orient=None,standoff=0):
    ax=LinearAxis(ticker=FixedTicker(ticks=ticks),major_tick_line_color=None,minor_tick_line_color=None,axis_line_color=None,
                  major_label_text_font=FONT,major_label_text_font_size="52px",major_label_standoff=standoff,major_label_text_color="black",
                  major_tick_out=0,major_tick_in=0,major_label_overrides={t:str(t) for t in ticks})
    if orient is not None: ax.major_label_orientation=orient
    m.add_layout(ax,side)
map_axis("above",lon_ticks,standoff=11); map_axis("below",lon_ticks,standoff=6); map_axis("left",lat_ticks,"vertical",standoff=9)
def red(x,y,t):
    m.add_layout(Label(x=x-ML,y=MB-y,x_units="screen",y_units="screen",text=t,text_font=FONT,text_font_size="39px",
                       text_font_style="bold",text_color="#ff0000",text_baseline="alphabetic"))
red(946,218,"10:00 UT"); red(1152,412,"09:50 UT"); red(1240,803,"09:40 UT")

right_strip=figure(width=54,height=936,x_range=(1540,1594),y_range=m.y_range,output_backend="svg",toolbar_location=None,border_fill_color=None,
             x_axis_type=None,y_axis_type=None,outline_line_color=None,min_border_left=0,min_border_right=0,min_border_top=71,min_border_bottom=93)
right_strip.grid.visible=False
for t in lat_ticks:
    stext(right_strip,1569,t,str(t),52,align="center",angle=-np.pi/2)

# ================================================================ colour bar titles
cb_titles=strip(1594,990,60)
for txt,x,sz,yc in [("ROTI [10",255,44,1020),("16",444,28,1004),("/m",474,44,1020),("2",525,28,1004),("/min]",543,44,1020),
                    ("DMSP O",926,44,1020),("+",1106,28,1005),("density",1137,44,1020),("[log(/cc)]",1310,44,1020)]:
    stext(cb_titles,x,yc,txt,sz)

# ================================================================ colour bars
def colorbar(mapper,lo,hi,width,ml,mr,ticks,minors,fmt):
    p=figure(width=width,height=125,x_range=(lo,hi),y_range=(0,1),output_backend="svg",toolbar_location=None,
             min_border_left=ml,min_border_right=mr,min_border_top=10,min_border_bottom=69,y_axis_type=None,
             outline_line_color="#666666",outline_line_width=2)
    p.grid.visible=False
    e=np.linspace(lo,hi,257)
    src=ColumnDataSource(dict(l=e[:-1],r=e[1:],v=(e[:-1]+e[1:])/2))
    p.quad(left="l",right="r",bottom=0,top=1,source=src,fill_color=transform("v",mapper),line_color=transform("v",mapper),line_width=1.5)
    a=p.xaxis[0]
    a.ticker=FixedTicker(ticks=ticks,minor_ticks=minors)
    a.major_label_overrides={t:fmt%t for t in ticks}
    a.major_tick_in=11;a.major_tick_out=0;a.minor_tick_in=5;a.minor_tick_out=0
    a.major_tick_line_color="#222222";a.minor_tick_line_color="#222222";a.axis_line_color="#666666";a.axis_line_width=2
    a.major_label_text_font=FONT;a.major_label_text_font_size="39px";a.major_label_standoff=21;a.major_label_text_color="black"
    return p
roti_ticks=[0,.2,.4,.6,.8,1.0]; roti_minor=[.1,.3,.5,.7,.9]
dmsp_ticks=[4.0,4.2,4.4,4.6,4.8,5.0,5.2,5.4]; dmsp_minor=[4.1,4.3,4.5,4.7,4.9,5.1,5.3]
c1=colorbar(roti_map,0,1,826,112,46,roti_ticks,roti_minor,"%.1f")
c2=colorbar(dmsp_map,4,5.5,768,45,56,dmsp_ticks,dmsp_minor,"%.1f")

# ================================================================ density panels
SUP={"2":"\u00b2","3":"\u00b3","4":"\u2074","5":"\u2075","6":"\u2076"}
def density(height,b_top,b_bot,lows,series_t,series_log,ymin,ylabel,tag):
    p=figure(width=1594,height=height,x_range=(0,20),y_range=(ymin,1e6),y_axis_type="log",output_backend="svg",
             toolbar_location=None,min_border_left=233,min_border_right=40,min_border_top=b_top,
             min_border_bottom=b_bot,outline_line_color="#666666",outline_line_width=2)
    p.grid.visible=False
    p.line(series_t,10**np.array(series_log),line_color="black",line_width=2.2)
    majors=[10.0**k for k in range(lows,7)]
    minors=[j*10.0**k for k in range(lows,6) for j in range(2,10)]
    xt=FixedTicker(ticks=minutes,minor_ticks=[1,3,5,7,9,11,13,15,17,19])
    yt=FixedTicker(ticks=majors,minor_ticks=minors)
    def sty(a,ml,mn):
        a.major_tick_in=ml;a.major_tick_out=0;a.minor_tick_in=mn;a.minor_tick_out=0
        a.major_tick_line_color="#555555";a.minor_tick_line_color="#555555";a.major_tick_line_width=2;a.minor_tick_line_width=2 if ml>20 else 1
        a.axis_line_color="#666666";a.axis_line_width=2
        a.major_label_text_color=None;a.major_label_standoff=0
    p.xaxis[0].ticker=xt;sty(p.xaxis[0],12,6)
    ya=p.yaxis[0];ya.ticker=yt;sty(ya,27,13)
    ya.major_label_text_color="black";ya.major_label_text_font=FONT;ya.major_label_text_font_size="28px";ya.major_label_standoff=9
    ya.major_label_overrides={10.0**k:"10"+SUP[str(k)] for k in range(lows,7)}
    ya.axis_label=ylabel;ya.axis_label_text_font=FONT;ya.axis_label_text_font_size="30px";ya.axis_label_text_font_style="normal"
    ya.axis_label_text_color="black";ya.axis_label_standoff=8;ya.axis_label_text_line_height=0.9
    tg=LinearAxis(ticker=FixedTicker(ticks=[]),axis_line_color=None,major_tick_line_color=None,minor_tick_line_color=None,major_label_text_color=None,
                  axis_label=tag,axis_label_orientation="horizontal",axis_label_text_font=FONT,axis_label_text_font_size="42px",
                  axis_label_text_font_style="bold",axis_label_text_color="black",axis_label_standoff=19)
    p.add_layout(tg,"left")
    a2=LinearAxis(ticker=xt);sty(a2,12,6);p.add_layout(a2,"above")
    a3=LogAxis(ticker=yt);sty(a3,27,13);p.add_layout(a3,"right")
    return p

b=density(524,60,5,3,o_t,o_log,1e3,"f18\nO\u207a density\n[/cc]","(b)")
c=density(472,6,9,2,h_t,h_log,1e2,"f18\nH\u207a density\n[/cc]","(c)")

# ================================================================ table: x counts minutes after 09:40, y counts page pixels
PX_PER_MIN=66.07
tbl=figure(width=1594,height=225,x_range=(-233/PX_PER_MIN,(1594-233)/PX_PER_MIN),y_range=(2396,2171),output_backend="svg",toolbar_location=None,
           x_axis_type=None,y_axis_type=None,outline_line_color=None,min_border_left=0,min_border_right=0,min_border_top=0,min_border_bottom=0)
tbl.grid.visible=False
rows=[mlt,mlon,mlat,glon,glat,alt,hhmm]
row_y=[2189.3,2215,2239.3,2263.3,2288.3,2314,2338.3]
LEFT=(62-233)/PX_PER_MIN
for name,vals,y in zip(row_names,rows,row_y):
    stext(tbl,LEFT,y,name,28)
    for k,v in enumerate(vals):
        stext(tbl,minutes[k],y,v,28,align="center")
stext(tbl,LEFT,2363,"2013 Mar 01",28)
stext(tbl,(793-233)/PX_PER_MIN,2367,"UT",50,bold=True)

roots=[top_strip,row(m,right_strip,spacing=0,margin=(-18,0,0,0)),cb_titles,row(c1,c2,spacing=0),b,c,tbl]
open("out.html","w").write(file_html(roots,INLINE))
